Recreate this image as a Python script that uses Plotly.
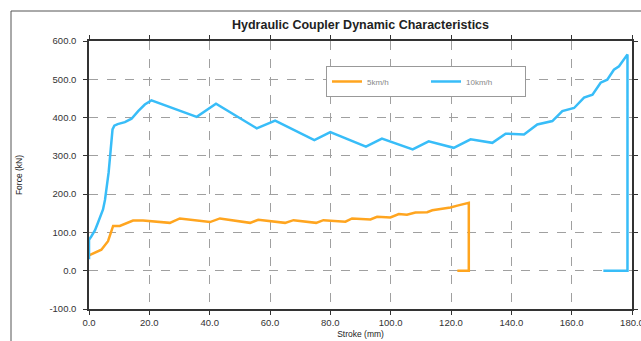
import plotly.graph_objects as go

# ---- data ----
stroke_5 = [0, 4.1, 6.3, 8, 10.2, 14.6, 17.9, 26.8, 30.1, 40.1, 43.4, 53.4, 56.1, 65, 67.8,
            75.3, 77.7, 85, 87.2, 93.3, 95.5, 99.9, 102.7, 105.4, 108.2, 112.1, 113.8, 116,
            117.6, 119.8, 122.1, 125.9, 125.9, 122.1]
force_5 = [40, 55, 77, 117, 117, 131, 131, 125, 136.5, 127, 136.5, 125, 133, 125, 132,
           125, 132, 128, 136.5, 134, 141, 139, 148, 146, 152, 153, 158, 160,
           163, 165, 170, 177.5, 0, 0]

stroke_10 = [0, 0, 0.8, 2, 3, 4.0, 4.65, 5.3, 5.8, 6.5, 7.2, 7.8, 8.4, 9.5, 11.9, 14.1, 16.3,
             18.5, 20.7, 35.7, 42.1, 55.6, 61.7, 74.7, 80, 91.8, 97.1, 107.3, 112.6, 120.9,
             126.5, 131.5, 133.7, 138.1, 144.2, 148.6, 153.6, 156.9, 160.8, 164.1, 166.9,
             169.6, 171.8, 174, 175.7, 178.5, 178.5, 170.5]
force_10 = [30, 81, 90, 106, 126, 145, 160, 185, 212, 256, 317, 369, 379, 383, 388, 397, 417,
            434, 445, 402, 436, 372, 392, 341, 362, 324, 345, 317, 338, 321,
            343, 338, 334, 358, 356, 382, 391, 417, 425, 452, 460,
            491, 499, 525, 534, 565, 0, 0]

x_ticks = [0, 20, 40, 60, 80, 100, 120, 140, 160, 180]
y_ticks = [-100, 0, 100, 200, 300, 400, 500, 600]

ORANGE = "#FFA51F"
BLUE = "#38BDF8"
FONT = "Liberation Sans, Arial, sans-serif"

fig = go.Figure()
fig.add_trace(go.Scatter(x=stroke_5, y=force_5, mode="lines", name="5km/h",
                         line=dict(color=ORANGE, width=2.5)))
fig.add_trace(go.Scatter(x=stroke_10, y=force_10, mode="lines", name="10km/h",
                         line=dict(color=BLUE, width=2.5)))

axis_common = dict(showline=True, linecolor="#333", linewidth=1.5, mirror="allticks",
                   ticks="outside", ticklen=4, tickwidth=1.2, tickcolor="#333",
                   showgrid=True, gridcolor="#a0a0a0", griddash="dash", gridwidth=1,
                   zeroline=False, automargin=False, ticklabeloverflow="allow",
                   tickfont=dict(family=FONT, size=9.5, color="#333"))

fig.update_layout(
    width=641, height=341,
    margin=dict(l=89, r=9, t=41, b=32, autoexpand=False),
    paper_bgcolor="white", plot_bgcolor="white",
    title=dict(text="<b>Hydraulic Coupler Dynamic Characteristics</b>",
               x=0.5, xref="paper", xanchor="center", y=1 - 25 / 341, yanchor="middle",
               font=dict(family=FONT, size=12.5, color="#222")),
    xaxis=dict(range=[0, 180], tickvals=x_ticks,
               ticktext=[f"{v:.1f}" for v in x_ticks],
               title=dict(text="Stroke (mm)", standoff=4,
                          font=dict(family=FONT, size=8.5, color="#222")),
               **axis_common),
    yaxis=dict(range=[-100, 600], tickvals=y_ticks,
               ticktext=[f"{v:.1f}" for v in y_ticks],
               ticklabelstandoff=5,
               title=dict(text="Force (kN)", standoff=25,
                          font=dict(family=FONT, size=8.5, color="#222")),
               **axis_common),
    xaxis2=dict(overlaying="x", anchor="y2", range=[0, 180], tickvals=x_ticks,
                ticks="inside", ticklen=4, tickwidth=1.2, tickcolor="#333",
                mirror="allticks", showline=False, showgrid=False, zeroline=False,
                showticklabels=False, automargin=False),
    yaxis2=dict(overlaying="y", anchor="x2", range=[-100, 600], tickvals=y_ticks,
                ticks="inside", ticklen=4, tickwidth=1.2, tickcolor="#333",
                mirror="allticks", showline=False, showgrid=False, zeroline=False,
                showticklabels=False, automargin=False),
    showlegend=True,
    legend=dict(orientation="h", x=(326 - 89) / 543, y=(309 - 66) / 268,
                xanchor="left", yanchor="top",
                bgcolor="white", bordercolor="#999", borderwidth=1,
                font=dict(family=FONT, size=8, color="#888"),
                entrywidth=54, entrywidthmode="pixels"),
    shapes=[dict(type="rect", xref="paper", yref="paper",
                 x0=(11 - 89) / 543, x1=1.2, y0=-0.3, y1=(309 - 11) / 268,
                 line=dict(color="#555", width=1), layer="below")],
)

fig.write_html("out.html")
